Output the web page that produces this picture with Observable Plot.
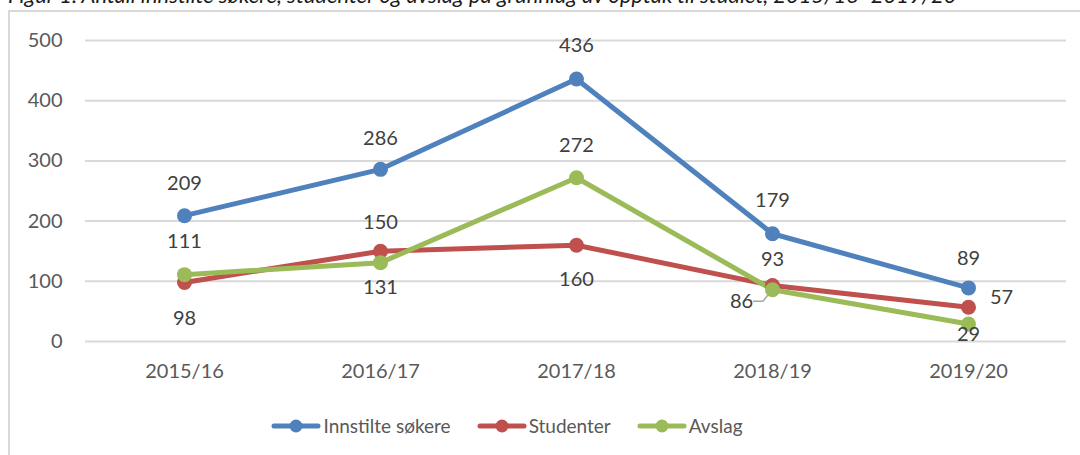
<!DOCTYPE html>
<html>
<head>
<meta charset="utf-8">
<script src="https://cdn.jsdelivr.net/npm/d3@7"></script>
<script src="https://cdn.jsdelivr.net/npm/@observablehq/plot@0.6"></script>
<style>
  html, body { margin: 0; padding: 0; background: #fff; width: 1080px; height: 455px; overflow: hidden; position: relative; font-family: Lato, "Open Sans", sans-serif; }
  #title { position: absolute; left: 8px; top: -16px; font-style: italic; font-size: 22px; color: #1a1a1a; white-space: nowrap; line-height: 22px; }
  #frame { position: absolute; left: 8px; top: 10px; width: 1200px; height: 600px; border: 2px solid #d9d9d9; box-sizing: border-box; }
  #chart { position: absolute; left: 0; top: 0; }
  #legend { position: absolute; left: 0; top: 414px; width: 1014px; display: flex; justify-content: center; gap: 26px; font-size: 19px; color: #595959; }
  .item { display: flex; align-items: center; gap: 2px; }
</style>
</head>
<body>
<div id="title">Figur 1. Antall innstilte søkere, studenter og avslag på grunnlag av opptak til studiet, 2015/16–2019/20</div>
<div id="frame"></div>
<div id="chart"></div>
<div id="legend"></div>
<script>
const years = ["2015/16", "2016/17", "2017/18", "2018/19", "2019/20"];
const innstilte = [209, 286, 436, 179, 89];
const studenter = [98, 150, 160, 93, 57];
const avslag = [111, 131, 272, 86, 29];
const seriesNames = ["Innstilte søkere", "Studenter", "Avslag"];
const yTicks = [0, 100, 200, 300, 400, 500];

// styling: colours and label offsets (pixels) per series
const colors = ["#4f81bd", "#c0504d", "#9bbb59"];
const labelDx = [
  [0, 0, 0, 0, 0],
  [0, 0, 0, 0, 33],
  [0, 0, 0, -31, 0]
];
const labelDy = [
  [-32, -31, -33, -33, -29],
  [36, -29, 34, -26, -10],
  [-33, 25, -32, 12, 11]
];

const seriesValues = [innstilte, studenter, avslag];
const rows = seriesValues.flatMap((vals, s) =>
  vals.map((v, i) => ({ series: seriesNames[s], s, i, year: years[i], value: v }))
);

const labelMarks = rows.map(d =>
  Plot.text([d], {
    x: "year", y: "value", text: d => String(d.value),
    dx: labelDx[d.s][d.i], dy: labelDy[d.s][d.i],
    fill: "#404040", fontSize: 20
  })
);

// leader line for the "86" label
function leader(index, scales) {
  const i = 3;
  const x = scales.x(years[i]);
  const y = scales.y(avslag[i]);
  const g = d3.create("svg:path")
    .attr("d", `M${x - 19},${y + 12}L${x - 9},${y + 12}L${x - 2},${y + 3}`)
    .attr("fill", "none").attr("stroke", "#a6a6a6").attr("stroke-width", 1.5);
  return g.node();
}

const chart = Plot.plot({
  width: 1080,
  height: 390,
  marginLeft: 85,
  marginRight: 14,
  marginTop: 40,
  marginBottom: 49,
  style: { background: "transparent", fontFamily: "Lato, 'Open Sans', sans-serif", overflow: "visible" },
  x: { type: "point", domain: years, padding: 0.5, label: null },
  y: { domain: [0, 500], label: null },
  color: { domain: seriesNames, range: colors },
  marks: [
    Plot.gridY(yTicks, { stroke: "#d9d9d9", strokeWidth: 2, strokeOpacity: 1 }),
    Plot.axisY(yTicks, { tickSize: 0, tickPadding: 23, fontSize: 20, fill: "#595959", label: null }),
    Plot.axisX({ tickSize: 0, tickPadding: 22, fontSize: 20, fill: "#595959", label: null }),
    leader,
    Plot.line(rows, { x: "year", y: "value", z: "series", stroke: "series", strokeWidth: 5, strokeLinecap: "round", strokeLinejoin: "round" }),
    Plot.dot(rows, { x: "year", y: "value", fill: "series", r: 7.5, stroke: null }),
    ...labelMarks
  ]
});
document.getElementById("chart").appendChild(chart);

const legend = document.getElementById("legend");
seriesNames.forEach((name, s) => {
  const item = document.createElement("div");
  item.className = "item";
  item.innerHTML = `<svg width="50" height="16"><line x1="3" y1="8" x2="47" y2="8" stroke="${colors[s]}" stroke-width="5" stroke-linecap="round"/><circle cx="25" cy="8" r="6.5" fill="${colors[s]}"/></svg><span>${name}</span>`;
  legend.appendChild(item);
});
</script>
</body>
</html>
